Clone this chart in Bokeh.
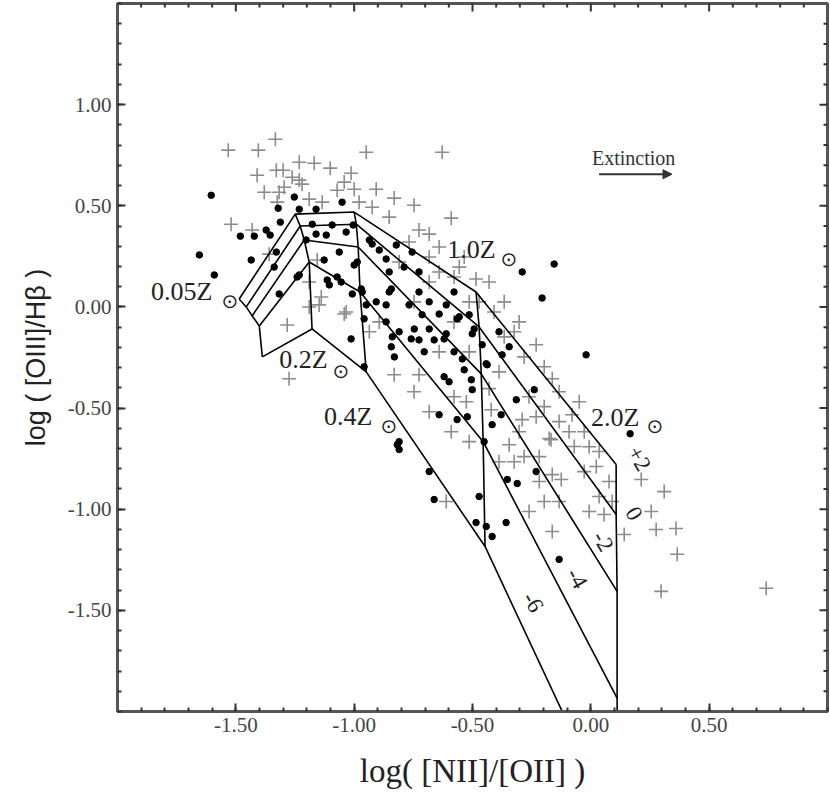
import math
from bokeh.plotting import figure
from bokeh.models import FixedTicker, PrintfTickFormatter, ColumnDataSource, Arrow, NormalHead
from bokeh.core.properties import value
from bokeh.embed import file_html
from bokeh.resources import INLINE

# ---------------- data ----------------
dot_x = [-1.604, -1.654, -1.591, -1.481, -1.422, -1.372, -1.321, -1.253, -1.312, -1.435,
         -1.329, -1.317, -1.241, -1.232, -1.203, -1.161, -1.118, -1.093, -1.034, -1.063,
         -1.127, -1.072, -1.114, -1.000, -0.966, -0.949, -0.907, -0.865, -0.839, -0.843,
         -1.013, -0.958, -0.865, -0.843, -0.924, -0.865, -1.004, -1.161, -1.051, -1.338,
         -1.232, -1.105, -1.008, -0.830, -0.818, -0.936, -0.987, -0.894, -0.822, -0.755,
         -1.055, -0.970, -0.852, -0.768, -0.713, -0.611, -0.810, -0.746, -0.683, -0.759,
         -0.726, -0.641, -0.565, -0.611, -0.514, -0.493, -0.442, -0.375, -0.290, -0.958,
         -0.155, -0.206, -0.020, 0.166, -0.315, -0.641, -0.565, -0.522, -0.417, -0.451,
         -0.810, -0.810, -0.231, -0.683, -0.556, -0.662, -0.620, -0.501, -0.459, -0.543,
         -0.535, -0.438, -0.620, -0.599, -0.505, -0.501, -0.239, -0.379, -0.353, -0.311,
         -0.472, -0.662, -0.485, -0.442, -0.417, -0.358, -0.134, -0.726, -0.683, -0.578,
         -0.704, -0.578, -0.388, -0.345, -0.726, -0.789, -0.852, -1.177, -1.355]
dot_y = [0.552, 0.257, 0.158, 0.350, 0.350, 0.380, 0.488, 0.543, 0.419, 0.232,
         0.271, 0.064, 0.148, 0.483, 0.331, 0.360, 0.355, 0.405, 0.370, 0.271,
         0.232, 0.148, 0.133, 0.207, 0.074, 0.010, 0.025, -0.074, -0.148, -0.197,
         -0.158, -0.059, 0.010, 0.089, 0.311, 0.237, 0.405, 0.483, 0.518, 0.197,
         0.158, 0.109, 0.064, -0.247, -0.681, 0.331, 0.222, 0.281, 0.306, 0.271,
         0.123, 0.089, 0.074, 0.010, -0.039, 0.010, -0.123, -0.109, -0.109, -0.158,
         -0.163, -0.035, -0.059, -0.133, -0.039, -0.109, -0.281, -0.237, 0.173, -0.296,
         0.212, 0.044, -0.237, -0.627, -0.459, -0.533, -0.557, -0.543, -0.582, -0.666,
         -0.666, -0.705, -0.814, -0.814, -0.049, -0.163, -0.158, -0.133, -0.187, -0.257,
         -0.311, -0.286, -0.345, -0.370, -0.360, -0.409, -0.409, -0.533, -0.853, -0.873,
         -0.937, -0.952, -1.066, -1.085, -1.135, -1.066, -1.248, 0.074, 0.025, 0.074,
         -0.222, -0.222, -0.123, -0.197, 0.173, 0.197, 0.173, 0.409, 0.355]

cross_x = [-1.532, -1.405, -1.333, -0.949, -1.169, -1.101, -1.410, -1.329, -1.300, -1.013,
           -1.000, -0.907, -0.831, -1.262, -1.220, -1.072, -1.317, -1.325, -1.190, -1.135,
           -0.924, -1.520, -1.431, -0.628, -0.747, -0.590, -0.726, -0.683, -1.232, -1.359,
           -1.283, -1.148, -1.042, -1.190, -1.156, -0.485, -0.324, -0.231, -0.163, -0.049,
           -0.079, -0.590, -0.345, -0.168, 0.023, -0.831, -0.726, -0.163, -0.125, 0.077,
           0.213, 0.310, 0.255, 0.056, 0.276, 0.360, -0.163, 0.141, 0.365, 0.297,
           0.741, -0.611, -0.231, -0.176, -0.290, 0.090, -0.421, -0.430, -0.526, -1.275,
           -1.139, -1.034, -1.190, -0.810, -0.683, -0.556, -0.430, -0.366, -0.303, -0.514,
           -0.388, -0.261, -0.641, -0.747, -0.578, -0.282, -0.197, -0.007, -0.028, 0.035,
           -0.894, -0.936, -1.042, -0.979, -0.852, -1.380, -1.296, -1.232, -0.641, -0.472,
           -0.134, -0.070, -0.218,
           -0.768, -0.641, -0.535, -0.683, -0.578, -0.514, -0.409, -0.366, -0.282, -0.197,
           -0.134, -0.092, -0.007, -0.218, -0.324, -0.134, 0.035, -0.028, -0.578, -0.514,
           -0.388, -0.261, -0.303, -0.197, -0.683, -0.747]
cross_y = [0.775, 0.775, 0.829, 0.765, 0.710, 0.686, 0.651, 0.676, 0.676, 0.661,
           0.582, 0.582, 0.538, 0.641, 0.607, 0.577, 0.567, 0.518, 0.533, 0.518,
           0.493, 0.409, 0.380, 0.765, 0.503, 0.439, 0.380, 0.360, 0.627, 0.261,
           -0.089, 0.010, -0.035, 0.123, 0.232, 0.138, -0.123, -0.187, -0.355, -0.469,
           -0.533, -0.617, -0.681, -0.656, -0.789, -0.335, -0.335, -0.829, -0.853, -0.863,
           -0.853, -0.913, -1.011, -1.026, -1.100, -1.095, -1.110, -1.125, -1.223, -1.406,
           -1.391, -0.962, -0.543, -0.651, -0.557, -0.962, -0.508, -0.404, -0.469, -0.355,
           0.049, -0.025, 0.000, 0.222, 0.247, 0.197, 0.123, 0.025, -0.074, -0.222,
           -0.321, -0.444, -0.222, 0.025, -0.074, -0.740, -0.962, -1.011, -0.617, -0.715,
           -0.074, -0.123, 0.617, 0.518, 0.444, 0.567, 0.592, 0.715, 0.173, 0.025,
           -0.567, -0.690, -0.863,
           0.321, 0.296, 0.247, 0.123, 0.148, 0.025, -0.025, -0.148, -0.247, -0.296,
           -0.419, -0.617, -0.691, -0.740, -0.765, -0.962, -0.937, -0.814, -0.444, -0.666,
           -0.765, -1.011, -0.617, -0.493, -0.518, -0.419]

# model grid: rows = metallicity, columns = ionisation sequence (top -> bottom)
metallicity_labels = ["0.05Z", "0.2Z", "0.4Z", "1.0Z", "2.0Z"]
grid_x = [[-1.486, -1.456, -1.431, -1.401, -1.388],
          [-1.249, -1.228, -1.211, -1.190, -1.178],
          [-1.000, -0.991, -0.983, -0.975, -0.949],
          [-0.485, -0.472, -0.463, -0.455, -0.447],
          [0.107, 0.107, 0.111, 0.111, 0.115]]
grid_y = [[0.039, 0.000, -0.044, -0.094, -0.247],
          [0.459, 0.400, 0.331, 0.222, -0.109],
          [0.469, 0.409, 0.296, 0.074, -0.321],
          [0.074, -0.099, -0.331, -0.666, -1.184],
          [-0.779, -1.026, -1.406, -1.934, -2.590]]

ion_labels = ["+2", "0", "-2", "-4", "-6"]
ion_label_x = [0.204, 0.183, 0.052, -0.058, -0.244]
ion_label_y = [-0.750, -1.021, -1.159, -1.342, -1.460]

z_label_x = [-1.858, -1.317, -1.127, -0.607, 0.001]
z_label_y = [0.075, -0.261, -0.542, 0.282, -0.547]
sun_x = [-1.525, -1.056, -0.853, -0.346, 0.271]
sun_y = [0.030, -0.316, -0.587, 0.237, -0.587]

x_major_ticks = [-1.5, -1.0, -0.5, 0.0, 0.5]
y_major_ticks = [-1.5, -1.0, -0.5, 0.0, 0.5, 1.0]
x_minor_ticks = [round(-2.0 + 0.1 * i, 1) for i in range(31)]
y_minor_ticks = [round(-2.0 + 0.1 * i, 1) for i in range(36)]

# ---------------- figure ----------------
SERIF = "Liberation Serif"
X0, X1, Y0, Y1 = -2.0, 1.0, -2.0, 1.5
p = figure(frame_width=710, frame_height=708, x_range=(X0, X1), y_range=(Y0, Y1),
           output_backend="svg", toolbar_location=None,
           min_border_left=117, min_border_right=3, min_border_top=3, min_border_bottom=84,
           background_fill_color="white", border_fill_color="white")
p.grid.visible = False
p.outline_line_color = "#555555"
p.outline_line_width = 3

TICK_COLOR = "#333333"
for ax, ticks, minor in ((p.xaxis[0], x_major_ticks, x_minor_ticks),
                         (p.yaxis[0], y_major_ticks, y_minor_ticks)):
    ax.ticker = FixedTicker(ticks=ticks, minor_ticks=minor)
    ax.formatter = PrintfTickFormatter(format="%.2f")
    ax.axis_line_color = "#555555"
    ax.axis_line_width = 3
    ax.major_tick_in = 8
    ax.major_tick_out = 0
    ax.minor_tick_in = 4
    ax.minor_tick_out = 0
    ax.major_tick_line_color = TICK_COLOR
    ax.minor_tick_line_color = TICK_COLOR
    ax.major_tick_line_width = 2
    ax.minor_tick_line_width = 2
    ax.major_label_text_font = SERIF
    ax.major_label_text_font_size = "21px"
    ax.major_label_text_color = "#444444"
    ax.major_label_standoff = 6
    ax.axis_label_text_font_style = "normal"
    ax.axis_label_text_color = "#222222"

p.xaxis[0].axis_label = "log( [NII]/[OII] )"
p.xaxis[0].axis_label_text_font = SERIF
p.xaxis[0].axis_label_text_font_size = "33px"
p.xaxis[0].axis_label_standoff = 18
p.yaxis[0].axis_label = "log ( [OIII]/Hβ )"
p.yaxis[0].axis_label_text_font = "Liberation Sans"
p.yaxis[0].axis_label_text_font_size = "27px"
p.yaxis[0].axis_label_standoff = 14

# tick marks on the top and right edges of the frame (half of each dash is clipped away)
x_minor_only = [t for t in x_minor_ticks if t not in x_major_ticks and X0 < t < X1]
y_minor_only = [t for t in y_minor_ticks if t not in y_major_ticks and Y0 < t < Y1]
p.scatter(x_major_ticks, [Y1] * len(x_major_ticks), marker="dash", angle=math.pi / 2,
          size=16, line_color=TICK_COLOR, line_width=2)
p.scatter(x_minor_only, [Y1] * len(x_minor_only), marker="dash", angle=math.pi / 2,
          size=8, line_color=TICK_COLOR, line_width=2)
p.scatter([X1] * len(y_major_ticks), y_major_ticks, marker="dash",
          size=16, line_color=TICK_COLOR, line_width=2)
p.scatter([X1] * len(y_minor_only), y_minor_only, marker="dash",
          size=8, line_color=TICK_COLOR, line_width=2)

# observed points
p.scatter(cross_x, cross_y, marker="cross", size=14, line_color="#8c8c8c", line_width=1.6)

# model grid lines
iso_z_xs = [row for row in grid_x]
iso_z_ys = [row for row in grid_y]
iso_u_xs = [[grid_x[i][j] for i in range(5)] for j in range(5)]
iso_u_ys = [[grid_y[i][j] for i in range(5)] for j in range(5)]
p.multi_line(iso_z_xs + iso_u_xs, iso_z_ys + iso_u_ys, line_color="black", line_width=1.6)

p.scatter(dot_x, dot_y, marker="circle", size=6.5, fill_color="black", line_color="black")

# labels
zsrc = ColumnDataSource(dict(x=z_label_x, y=z_label_y, t=metallicity_labels))
p.text(x="x", y="y", text="t", source=zsrc, text_font=value(SERIF), text_font_size="26px",
       text_color="#222222", text_align="left", text_baseline="alphabetic")
ssrc = ColumnDataSource(dict(x=sun_x, y=sun_y, t=["⊙"] * 5))
p.text(x="x", y="y", text="t", source=ssrc, text_font=value("DejaVu Sans"), text_font_size="20px",
       text_color="#222222", text_align="center", text_baseline="middle")
isrc = ColumnDataSource(dict(x=ion_label_x, y=ion_label_y, t=ion_labels))
p.text(x="x", y="y", text="t", source=isrc, text_font=value(SERIF), text_font_size="23px",
       text_color="#222222", text_align="center", text_baseline="middle", angle=-1.05)

p.text(x=[0.005], y=[0.735], text=["Extinction"], text_font=value(SERIF), text_font_size="20px",
       text_color="#333333", text_align="left", text_baseline="alphabetic")
p.add_layout(Arrow(end=NormalHead(size=9, fill_color="#333333", line_color="#333333"),
                   x_start=0.035, y_start=0.656, x_end=0.343, y_end=0.656,
                   line_color="#333333", line_width=2))

open("out.html", "w").write(file_html(p, INLINE))
